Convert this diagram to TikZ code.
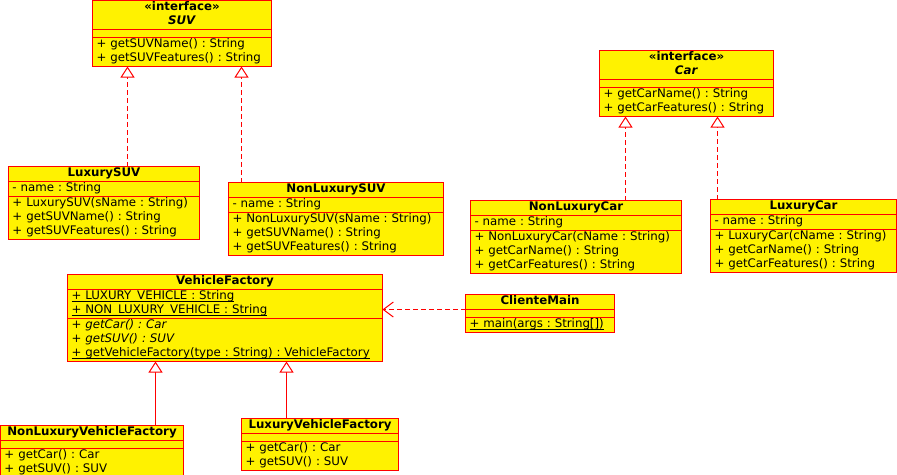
\documentclass[tikz,border=0pt]{standalone}
\usepackage{fontspec}
\setmainfont{DejaVu Sans}
\usetikzlibrary{shapes.multipart,arrows.meta}
\newcommand{\umlfont}{\fontsize{11.8}{14}\selectfont\frenchspacing}
\newcommand{\umlstatic}[1]{\setbox0\hbox{#1}\rlap{\rule[-2.5pt]{\wd0}{1pt}}\box0}
\newcommand{\umlempty}{\rule{0pt}{7pt}}

\begin{document}
\begin{tikzpicture}[x=1pt,y=-1pt,
    classbox/.style={rectangle split, rectangle split parts=3,
        rectangle split ignore empty parts=false,
        draw=red, line width=1pt, fill=yellow, anchor=north west,
        inner xsep=4pt, inner ysep=0pt, outer sep=0pt,
        align=left, font=\umlfont},
    realize/.style={color=red, line width=1pt, dash pattern=on 5pt off 3pt,
        -{Triangle[open,length=11pt,width=14pt,fill=white]}},
    inherit/.style={color=red, line width=1pt,
        -{Triangle[open,length=11pt,width=14pt,fill=white]}},
    depend/.style={color=red, line width=1pt, dash pattern=on 5pt off 3pt,
        -{Straight Barb[length=10pt,width=15pt]}}]
        \useasboundingbox (0,0) rectangle (897,474);

        % interfaces
        \node[classbox, text width=171pt] (suv) at (92.5,0.5)
            {\centering\strut\textbf{«interface»}\\\strut\textbf{\textit{SUV}}\par
            \nodepart{two}\umlempty
            \nodepart{three}\strut+ getSUVName() : String\\\strut+ getSUVFeatures() : String};
        \node[classbox, text width=166pt] (car) at (599.5,50.5)
            {\centering\strut\textbf{«interface»}\\\strut\textbf{\textit{Car}}\par
            \nodepart{two}\umlempty
            \nodepart{three}\strut+ getCarName() : String\\\strut+ getCarFeatures() : String};

        % products
        \node[classbox, text width=183pt] (luxurysuv) at (8.5,166.5)
            {\centering\strut\textbf{LuxurySUV}\par
            \nodepart{two}\strut- name : String
            \nodepart{three}\strut+ LuxurySUV(sName : String)\\\strut+ getSUVName() : String\\\strut+ getSUVFeatures() : String};
        \node[classbox, text width=207pt] (nonluxurysuv) at (228.5,182.5)
            {\centering\strut\textbf{NonLuxurySUV}\par
            \nodepart{two}\strut- name : String
            \nodepart{three}\strut+ NonLuxurySUV(sName : String)\\\strut+ getSUVName() : String\\\strut+ getSUVFeatures() : String};
        \node[classbox, text width=203pt] (nonluxurycar) at (470.5,200.5)
            {\centering\strut\textbf{NonLuxuryCar}\par
            \nodepart{two}\strut- name : String
            \nodepart{three}\strut+ NonLuxuryCar(cName : String)\\\strut+ getCarName() : String\\\strut+ getCarFeatures() : String};
        \node[classbox, text width=178pt] (luxurycar) at (710.5,199.5)
            {\centering\strut\textbf{LuxuryCar}\par
            \nodepart{two}\strut- name : String
            \nodepart{three}\strut+ LuxuryCar(cName : String)\\\strut+ getCarName() : String\\\strut+ getCarFeatures() : String};

        % factories
        \node[classbox, text width=307pt] (vehiclefactory) at (67.5,274.5)
            {\centering\strut\textbf{VehicleFactory}\par
            \nodepart{two}\strut\umlstatic{+ LUXURY\_VEHICLE : String}\\\strut\umlstatic{+ NON\_LUXURY\_VEHICLE : String}
            \nodepart{three}\strut\textit{+ getCar() : Car}\\\strut\textit{+ getSUV() : SUV}\\\strut\umlstatic{+ getVehicleFactory(type : String) : VehicleFactory}};
        \node[classbox, text width=141pt] (clientemain) at (465.5,294.5)
            {\centering\strut\textbf{ClienteMain}\par
            \nodepart{two}\umlempty
            \nodepart{three}\strut\umlstatic{+ main(args : String[])}};
        \node[classbox, text width=175pt] (nonluxuryvehiclefactory) at (0.5,425.5)
            {\centering\strut\textbf{NonLuxuryVehicleFactory}\par
            \nodepart{two}\umlempty
            \nodepart{three}\strut+ getCar() : Car\\\strut+ getSUV() : SUV};
        \node[classbox, text width=149pt] (luxuryvehiclefactory) at (241.5,418.5)
            {\centering\strut\textbf{LuxuryVehicleFactory}\par
            \nodepart{two}\umlempty
            \nodepart{three}\strut+ getCar() : Car\\\strut+ getSUV() : SUV};

        \draw[realize]([xshift=-54.5pt]suv.south |- luxurysuv.north) -- ([xshift=-54.5pt]suv.south);
        \draw[realize]([xshift=59.5pt]suv.south |- nonluxurysuv.north) -- ([xshift=59.5pt]suv.south);
        \draw[realize]([xshift=-61pt]car.south |- nonluxurycar.north) -- ([xshift=-61pt]car.south);
        \draw[realize]([xshift=31pt]car.south |- luxurycar.north) -- ([xshift=31pt]car.south);
        \draw[inherit]([xshift=-69.5pt]vehiclefactory.south |- nonluxuryvehiclefactory.north) -- ([xshift=-69.5pt]vehiclefactory.south);
        \draw[inherit]([xshift=61.5pt]vehiclefactory.south |- luxuryvehiclefactory.north) -- ([xshift=61.5pt]vehiclefactory.south);
        \draw[depend](clientemain.one split west) -- (clientemain.one split west -| vehiclefactory.east);
    \end{tikzpicture}
\end{document}
